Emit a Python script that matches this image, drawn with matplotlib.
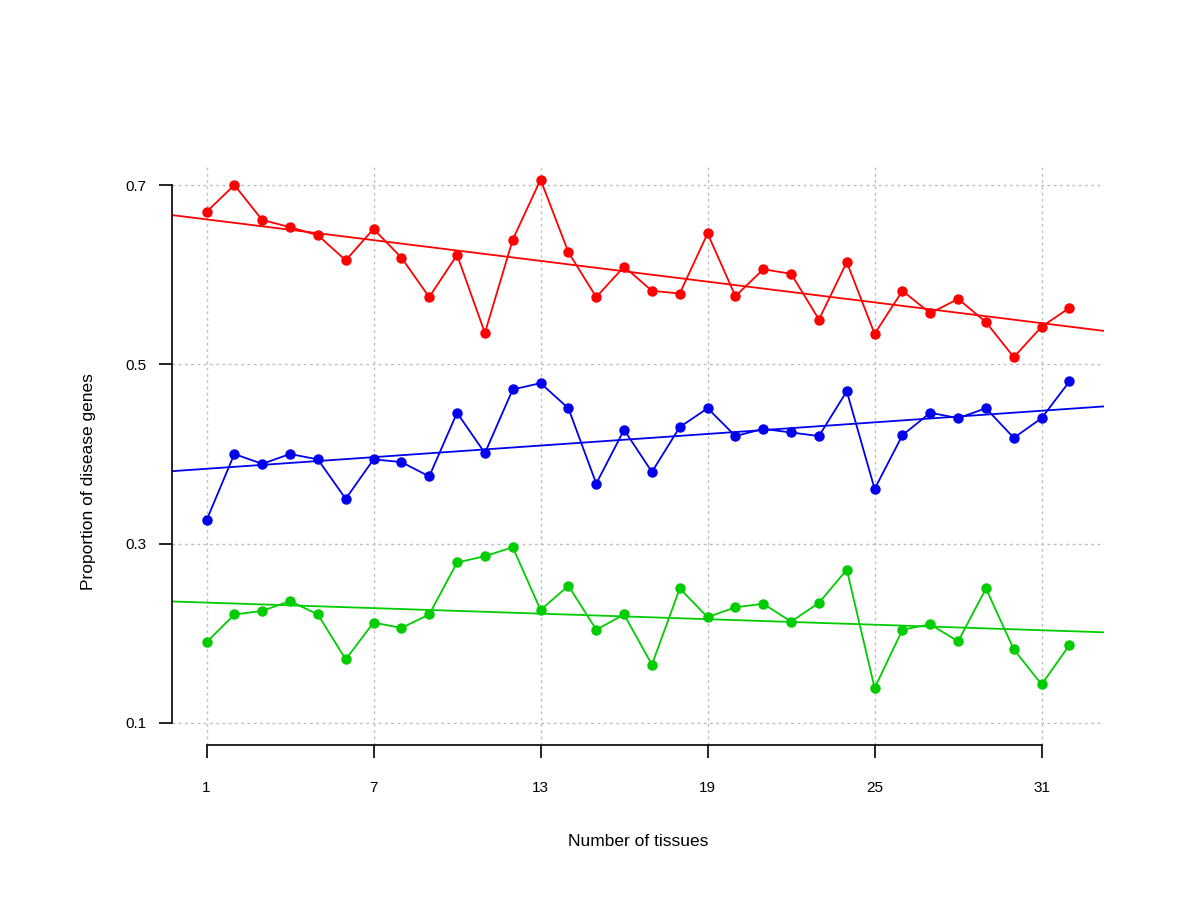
import matplotlib
matplotlib.use("Agg")
import matplotlib.pyplot as plt
import numpy as np

plt.rcParams["font.family"] = ["Liberation Sans", "DejaVu Sans"]

# Number of tissues 1..32
tissues = np.arange(1, 33)

red_vals = [0.670, 0.700, 0.661, 0.653, 0.644, 0.616, 0.651, 0.619, 0.575, 0.622,
            0.535, 0.639, 0.706, 0.625, 0.575, 0.609, 0.582, 0.579, 0.646, 0.576,
            0.606, 0.601, 0.550, 0.614, 0.534, 0.582, 0.557, 0.573, 0.547, 0.508,
            0.542, 0.563]
blue_vals = [0.326, 0.400, 0.389, 0.400, 0.394, 0.350, 0.394, 0.391, 0.375, 0.446,
             0.401, 0.472, 0.479, 0.451, 0.367, 0.427, 0.380, 0.430, 0.451, 0.420,
             0.428, 0.424, 0.420, 0.470, 0.361, 0.421, 0.446, 0.440, 0.451, 0.418,
             0.440, 0.481]
green_vals = [0.190, 0.221, 0.225, 0.236, 0.221, 0.171, 0.212, 0.206, 0.221, 0.279,
              0.286, 0.296, 0.226, 0.253, 0.204, 0.221, 0.165, 0.250, 0.218, 0.229,
              0.233, 0.213, 0.234, 0.271, 0.139, 0.204, 0.210, 0.191, 0.250, 0.182,
              0.143, 0.187]

series = [(red_vals, "#FF0000"), (blue_vals, "#0000EE"), (green_vals, "#00CD00")]

x_ticks = [1, 7, 13, 19, 25, 31]
y_ticks = [0.1, 0.3, 0.5, 0.7]

fig = plt.figure(figsize=(12, 9), dpi=100)
ax = fig.add_axes([172 / 1200, 1 - 744.5 / 900, (1104 - 172) / 1200, (744.5 - 163.5) / 900])

# R-style ranges with 4% padding
ax.set_xlim(1 - 0.04 * 31, 32 + 0.04 * 31)
ax.set_ylim(0.1 - 0.04 * 0.6, 0.7 + 0.04 * 0.6)

# dotted grid
for xt in x_ticks:
    ax.axvline(xt, color="#BEBEBE", lw=1, ls=(0, (2, 2.5)), zorder=1)
for yt in y_ticks:
    ax.axhline(yt, color="#BEBEBE", lw=1, ls=(0, (2, 2.5)), zorder=1)

for vals, col in series:
    ax.plot(tissues, vals, "-o", color=col, lw=1.3, markersize=6.5, zorder=3)
    slope, intercept = np.polyfit(tissues, vals, 1)
    ax.axline((0, intercept), slope=slope, color=col, lw=1.3, zorder=2)

for side in ("top", "right"):
    ax.spines[side].set_visible(False)
ax.spines["left"].set_bounds(0.1, 0.7)
ax.spines["bottom"].set_bounds(1, 31)
ax.spines["left"].set_linewidth(1.2)
ax.spines["bottom"].set_linewidth(1.2)

ax.set_xticks(x_ticks)
ax.set_yticks(y_ticks)
ax.set_yticklabels(["0.1", "0.3", "0.5", "0.7"])
ax.tick_params(axis="x", length=9.5, width=1.2, pad=17, labelsize=11)
ax.tick_params(axis="y", length=9.5, width=1.2, pad=9, labelsize=11)

fig.text(638 / 1200, 1 - 841 / 900, "Number of tissues", ha="center", va="center",
         fontsize=12.5)
fig.text(88 / 1200, 1 - 482 / 900, "Proportion of disease genes", ha="center",
         va="center", rotation=90, fontsize=12.5)

fig.savefig("out.png", dpi=100)
